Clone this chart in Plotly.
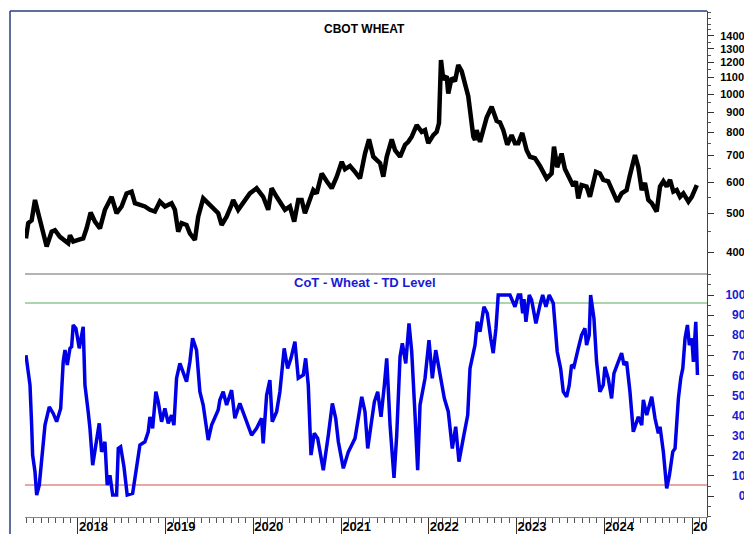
import plotly.graph_objects as go
import pandas as pd

# ---------------- data ----------------
price_years = [
    2017.407, 2017.433, 2017.472, 2017.510, 2017.547, 2017.586, 2017.643, 2017.700, 2017.738, 2017.795,
    2017.852, 2017.889, 2017.909, 2017.946, 2018.003, 2018.060, 2018.099, 2018.145, 2018.194, 2018.251,
    2018.308, 2018.346, 2018.384, 2018.441, 2018.498, 2018.555, 2018.612, 2018.650, 2018.707, 2018.764,
    2018.821, 2018.878, 2018.935, 2018.992, 2019.068, 2019.106, 2019.144, 2019.182, 2019.239, 2019.277,
    2019.334, 2019.372, 2019.429, 2019.486, 2019.543, 2019.600, 2019.639, 2019.696, 2019.753, 2019.771,
    2019.828, 2019.867, 2019.924, 2019.961, 2020.038, 2020.113, 2020.170, 2020.209, 2020.266, 2020.323,
    2020.361, 2020.417, 2020.466, 2020.512, 2020.551, 2020.588, 2020.626, 2020.683, 2020.722, 2020.779,
    2020.836, 2020.893, 2020.950, 2021.007, 2021.044, 2021.101, 2021.158, 2021.215, 2021.272, 2021.318,
    2021.367, 2021.406, 2021.444, 2021.481, 2021.520, 2021.577, 2021.615, 2021.672, 2021.729, 2021.766,
    2021.805, 2021.862, 2021.919, 2021.957, 2021.994, 2022.051, 2022.090, 2022.116, 2022.139, 2022.165,
    2022.204, 2022.222, 2022.261, 2022.299, 2022.336, 2022.375, 2022.413, 2022.450, 2022.470, 2022.489,
    2022.508, 2022.527, 2022.546, 2022.584, 2022.621, 2022.660, 2022.717, 2022.774, 2022.812, 2022.850,
    2022.895, 2022.945, 2022.983, 2023.021, 2023.066, 2023.116, 2023.154, 2023.211, 2023.268, 2023.306,
    2023.344, 2023.401, 2023.428, 2023.465, 2023.515, 2023.553, 2023.610, 2023.648, 2023.678, 2023.705,
    2023.743, 2023.800, 2023.838, 2023.876, 2023.907, 2023.952, 2023.990, 2024.047, 2024.104, 2024.149,
    2024.199, 2024.256, 2024.294, 2024.332, 2024.351, 2024.389, 2024.428, 2024.465, 2024.503, 2024.542,
    2024.598, 2024.636, 2024.674, 2024.712, 2024.750, 2024.788, 2024.826, 2024.864, 2024.902, 2024.959,
    2024.997, 2025.055,
]
price_values = [
    433, 473, 481, 541, 501, 464, 413, 450, 454, 437,
    429, 421, 441, 425, 429, 433, 459, 503, 477, 459,
    511, 531, 551, 501, 521, 562, 568, 531, 526, 521,
    511, 506, 536, 521, 531, 511, 450, 473, 468, 446,
    429, 491, 546, 531, 516, 501, 468, 491, 526, 541,
    511, 526, 551, 562, 579, 551, 511, 579, 551, 526,
    511, 521, 477, 541, 541, 501, 531, 573, 562, 631,
    603, 579, 619, 675, 647, 659, 637, 613, 708, 769,
    695, 683, 670, 619, 695, 769, 722, 695, 745, 758,
    781, 835, 803, 811, 752, 788, 803, 844, 1218, 1088,
    1109, 1003, 1098, 1077, 1183, 1142, 1065, 987, 911, 856,
    781, 766, 811, 758, 811, 872, 929, 856, 848, 811,
    745, 788, 752, 752, 798, 722, 695, 689, 659, 631,
    613, 631, 737, 654, 708, 647, 613, 587, 603, 546,
    590, 585, 551, 608, 637, 631, 608, 603, 562, 536,
    562, 573, 625, 670, 702, 654, 573, 597, 541, 531,
    506, 585, 603, 585, 608, 568, 573, 551, 562, 536,
    551, 590,
]

cot_years = [
    2017.407, 2017.433, 2017.453, 2017.472, 2017.483, 2017.510, 2017.529, 2017.559, 2017.586, 2017.624,
    2017.673, 2017.718, 2017.757, 2017.803, 2017.832, 2017.852, 2017.878, 2017.909, 2017.928, 2017.946,
    2017.977, 2018.015, 2018.060, 2018.080, 2018.117, 2018.137, 2018.168, 2018.205, 2018.243, 2018.270,
    2018.308, 2018.334, 2018.365, 2018.396, 2018.441, 2018.460, 2018.487, 2018.525, 2018.562, 2018.624,
    2018.650, 2018.707, 2018.764, 2018.802, 2018.821, 2018.852, 2018.889, 2018.916, 2018.954, 2018.992,
    2019.030, 2019.068, 2019.095, 2019.125, 2019.163, 2019.201, 2019.239, 2019.277, 2019.308, 2019.353,
    2019.391, 2019.429, 2019.486, 2019.525, 2019.562, 2019.600, 2019.619, 2019.657, 2019.696, 2019.753,
    2019.790, 2019.847, 2019.904, 2019.942, 2019.981, 2020.038, 2020.095, 2020.113, 2020.152, 2020.189,
    2020.216, 2020.266, 2020.303, 2020.352, 2020.391, 2020.429, 2020.474, 2020.512, 2020.569, 2020.596,
    2020.626, 2020.657, 2020.694, 2020.733, 2020.797, 2020.854, 2020.900, 2020.938, 2020.968, 2021.025,
    2021.082, 2021.121, 2021.158, 2021.196, 2021.235, 2021.272, 2021.303, 2021.341, 2021.379, 2021.417,
    2021.455, 2021.493, 2021.520, 2021.558, 2021.603, 2021.634, 2021.672, 2021.698, 2021.737, 2021.774,
    2021.805, 2021.843, 2021.873, 2021.900, 2021.957, 2022.002, 2022.040, 2022.079, 2022.128, 2022.177,
    2022.222, 2022.268, 2022.307, 2022.344, 2022.393, 2022.444, 2022.470, 2022.500, 2022.527, 2022.553,
    2022.584, 2022.629, 2022.667, 2022.706, 2022.735, 2022.766, 2022.792, 2022.926, 2022.983, 2023.021,
    2023.048, 2023.071, 2023.086, 2023.108, 2023.146, 2023.173, 2023.222, 2023.268, 2023.299, 2023.336,
    2023.374, 2023.420, 2023.465, 2023.504, 2023.534, 2023.572, 2023.602, 2023.629, 2023.656, 2023.705,
    2023.743, 2023.781, 2023.800, 2023.830, 2023.846, 2023.884, 2023.914, 2023.952, 2023.990, 2024.009,
    2024.047, 2024.085, 2024.112, 2024.161, 2024.199, 2024.226, 2024.256, 2024.294, 2024.332, 2024.389,
    2024.428, 2024.446, 2024.485, 2024.542, 2024.579, 2024.617, 2024.636, 2024.674, 2024.712, 2024.743,
    2024.781, 2024.807, 2024.845, 2024.872, 2024.895, 2024.921, 2024.948, 2024.970, 2024.998, 2025.016,
    2025.043, 2025.062,
]
cot_values = [
    70.1, 62.8, 55.2, 35.3, 20.4, 12.1, 0.5, 5.5, 17.1, 35.3,
    44.4, 41.1, 37.0, 43.6, 66.8, 72.6, 65.2, 73.5, 74.3, 85.1,
    83.4, 73.5, 84.2, 55.2, 41.9, 33.7, 15.4, 27.0, 36.2, 22.0,
    27.0, 5.5, 10.4, 0.5, 0.5, 23.7, 24.5, 14.6, 0.5, 1.3,
    9.6, 25.4, 27.0, 32.0, 39.4, 33.7, 51.9, 46.9, 37.0, 43.6,
    36.2, 40.3, 35.3, 58.6, 66.0, 61.0, 56.9, 66.8, 78.5, 72.6,
    51.9, 45.3, 27.9, 35.3, 38.7, 42.8, 47.8, 51.9, 45.3, 52.7,
    38.7, 46.1, 39.4, 35.3, 30.3, 33.7, 38.7, 26.2, 50.2, 57.7,
    37.0, 42.0, 51.9, 73.5, 63.5, 68.5, 76.8, 58.6, 60.2, 68.5,
    55.2, 20.4, 31.2, 28.7, 12.9, 30.3, 46.1, 38.7, 27.0, 13.8,
    22.0, 25.4, 28.7, 38.7, 49.4, 42.0, 23.7, 35.3, 46.9, 51.9,
    39.4, 55.2, 68.5, 35.3, 9.1, 30.3, 69.3, 76.0, 66.0, 85.9,
    71.8, 40.3, 12.9, 45.3, 58.6, 77.6, 58.6, 72.6, 60.2, 48.6,
    42.0, 23.7, 34.5, 17.1, 28.7, 40.3, 63.5, 69.3, 75.1, 86.7,
    81.7, 94.2, 90.9, 78.5, 71.1, 83.4, 100, 100, 94.2, 100,
    100, 90.9, 98, 86.7, 100, 97.5, 85.9, 95.0, 100, 94.2,
    100, 95.9, 71.8, 63.5, 51.9, 49.4, 55.2, 65.2, 64.3, 73.5,
    80.1, 83.4, 75.1, 80.1, 100, 88.4, 66.8, 51.9, 55.2, 64.3,
    58.6, 48.6, 61.0, 66.8, 71.1, 65.2, 66.8, 51.9, 32.0, 39.4,
    35.3, 47.8, 40.3, 49.4, 38.7, 31.2, 34.5, 22.0, 3.8, 10.4,
    22.0, 23.7, 48.6, 58.6, 63.5, 78.5, 85.1, 75.1, 78.5, 66.8,
    86.7, 60.2,
]

upper_level = 96
lower_level = 5.5

price_ticks = [400, 500, 600, 700, 800, 900, 1000, 1100, 1200, 1300, 1400]
price_minor = [350, 450, 550, 650, 750, 850, 950, 1050, 1150, 1250, 1350, 1450, 1500, 1550, 1600]
cot_ticks = [0, 10, 20, 30, 40, 50, 60, 70, 80, 90, 100]
cot_minor = [-10, -5, 5, 15, 25, 35, 45, 55, 65, 75, 85, 95, 105, 110]
year_ticks = [2018, 2019, 2020, 2021, 2022, 2023, 2024, 2025]
year_labels = ["2018", "2019", "2020", "2021", "2022", "2023", "2024", "20"]

price_title = "CBOT WHEAT"
cot_title = "CoT - Wheat - TD Level"


def to_date(v):
    y = int(v)
    start = pd.Timestamp(year=y, month=1, day=1)
    end = pd.Timestamp(year=y + 1, month=1, day=1)
    return start + (end - start) * (v - y)


def pad(labels):
    w = max(len(s) for s in labels)
    return ["\u00a0" * (2 * (w - len(s))) + s for s in labels]


price_dates = [to_date(v) for v in price_years]
cot_dates = [to_date(v) for v in cot_years]
x_start = to_date(2017.396)
x_end = to_date(2025.171)

FONT = "Liberation Sans, Arial, sans-serif"
BLUE = "#1a1ad6"
NAVY = "#27407a"

fig = go.Figure()
fig.add_trace(go.Scatter(x=price_dates, y=price_values, mode="lines",
                         line=dict(color="black", width=4.5), yaxis="y", xaxis="x",
                         showlegend=False, hoverinfo="x+y"))
fig.add_trace(go.Scatter(x=[x_start, x_end], y=[upper_level, upper_level], mode="lines",
                         line=dict(color="#8fc98f", width=1.5), yaxis="y2", xaxis="x",
                         showlegend=False, hoverinfo="skip"))
fig.add_trace(go.Scatter(x=[x_start, x_end], y=[lower_level, lower_level], mode="lines",
                         line=dict(color="#e08a8a", width=1.5), yaxis="y2", xaxis="x",
                         showlegend=False, hoverinfo="skip"))
fig.add_trace(go.Scatter(x=cot_dates, y=cot_values, mode="lines",
                         line=dict(color="#0000e6", width=3.5), yaxis="y2", xaxis="x",
                         showlegend=False, hoverinfo="x+y"))

split = 0.480
left_dom = 15 / 697

# page body has an 8px default margin, so the figure is 8px smaller each way
fig.update_layout(
    width=744, height=526,
    margin=dict(l=2, r=45, t=3, b=17, autoexpand=False),
    paper_bgcolor="white", plot_bgcolor="white",
    font=dict(family=FONT, size=12, color="black"),
    xaxis=dict(
        type="date", domain=[left_dom, 1], anchor="y2", automargin=False,
        range=[x_start, x_end],
        tickmode="array", tickvals=[to_date(v) for v in year_ticks], ticktext=year_labels,
        ticks="outside", ticklen=17, tickwidth=1, tickcolor="#333",
        ticklabelposition="outside right", ticklabelstandoff=-3,
        tickfont=dict(family=FONT, size=13, color="black", weight="bold"),
        minor=dict(ticks="outside", ticklen=5, tickwidth=1, tickcolor="#555",
                   dtick="M1", tick0="2017-06-01"),
        showline=True, linecolor="#888", linewidth=1,
        showgrid=False, zeroline=False,
    ),
    yaxis=dict(
        type="log", domain=[split, 1], side="right", anchor="x", automargin=False,
        range=[2.5465, 3.209],
        tickmode="array", tickvals=price_ticks, ticktext=pad([str(v) for v in price_ticks]),
        ticks="outside", ticklen=6, tickwidth=1, tickcolor="#333",
        tickfont=dict(family=FONT, size=11, color="black", weight="bold"),
        minor=dict(ticks="outside", ticklen=3, tickwidth=1, tickcolor="#555", tickvals=price_minor),
        showline=True, linecolor="#444", linewidth=1,
        showgrid=False, zeroline=False, ticklabelstandoff=4,
    ),
    yaxis2=dict(
        domain=[0, split], side="right", anchor="x", automargin=False,
        range=[-10.4, 110.4],
        tickmode="array", tickvals=cot_ticks, ticktext=pad([str(v) for v in cot_ticks]),
        ticks="outside", ticklen=6, tickwidth=1, tickcolor="#333",
        tickfont=dict(family=FONT, size=12, color=BLUE, weight="bold"),
        minor=dict(ticks="outside", ticklen=3, tickwidth=1, tickcolor="#555", tickvals=cot_minor),
        showline=True, linecolor="#444", linewidth=1,
        showgrid=False, zeroline=False, ticklabelstandoff=9,
    ),
    shapes=[
        dict(type="line", xref="paper", yref="paper", x0=left_dom, x1=1, y0=split, y1=split,
             line=dict(color="#9a9a9a", width=1.5)),
        dict(type="line", xref="paper", yref="paper", x0=0, x1=0, y0=-0.04, y1=1,
             line=dict(color=NAVY, width=1.5)),
        dict(type="line", xref="paper", yref="paper", x0=0, x1=1, y0=1, y1=1,
             line=dict(color=NAVY, width=1.5)),
    ],
    annotations=[
        dict(text=price_title, xref="paper", yref="paper", x=0.509, y=0.9644,
             showarrow=False, xanchor="center", yanchor="middle",
             font=dict(family=FONT, size=12, color="black", weight="bold")),
        dict(text=cot_title, xref="paper", yref="paper", x=0.509, y=0.4625,
             showarrow=False, xanchor="center", yanchor="middle",
             font=dict(family=FONT, size=13, color=BLUE, weight="bold")),
    ],
)

fig.write_html("out.html")
